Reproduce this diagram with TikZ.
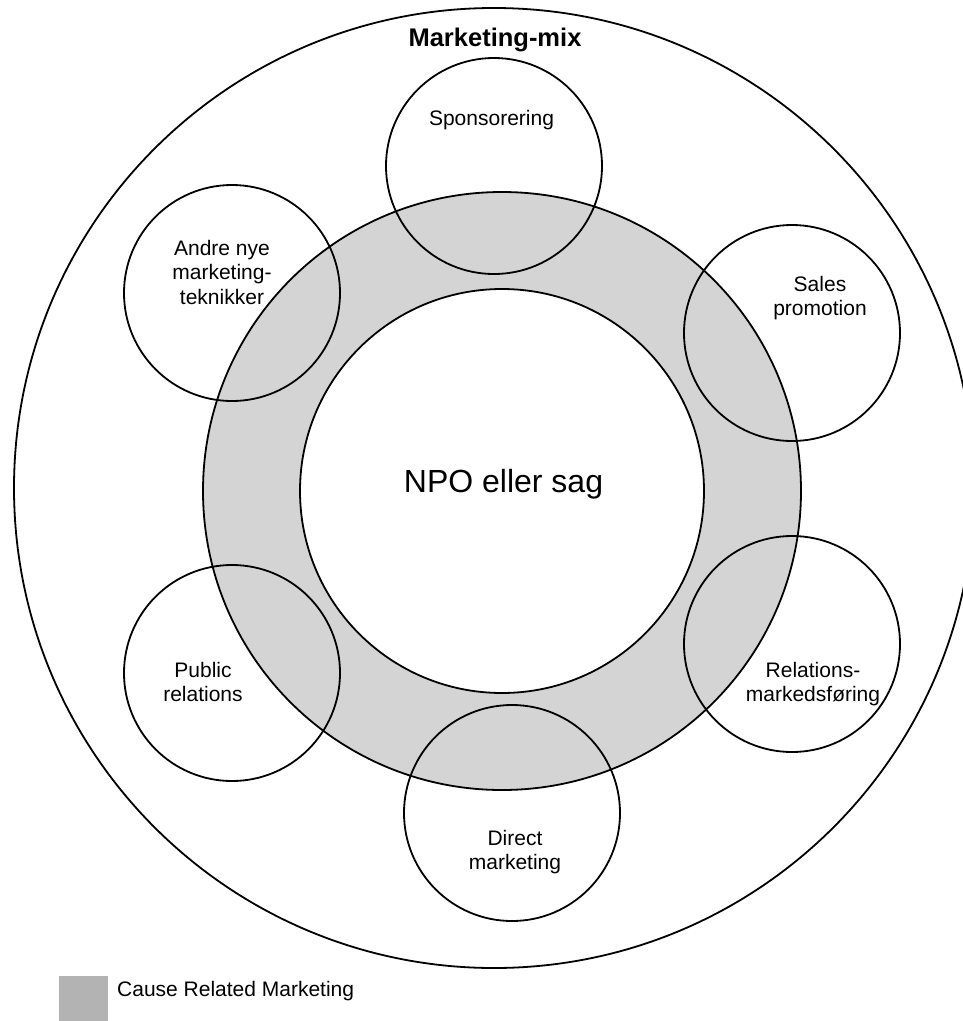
\documentclass[tikz,border=0pt]{standalone}
\usepackage{fontspec}
\setmainfont{Liberation Sans}
\definecolor{ringgray}{RGB}{212,212,212}
\definecolor{legendgray}{RGB}{179,179,179}
\begin{document}
\begin{tikzpicture}[x=1pt,y=-1pt,
  outline/.style={draw=black, line width=1.8pt},
  bub/.style={circle, outline, minimum size=216pt, inner sep=0pt},
  lbl/.style={align=center, anchor=base, inner sep=0pt, font=\fontsize{21}{24.5}\selectfont},
]
\useasboundingbox (0,0) rectangle (963,1021);
\clip (0,0) rectangle (963,1021);
% outer marketing-mix circle
\node[circle, outline, minimum size=960pt, inner sep=0pt] (mix) at (494,488) {};
% gray ring (Cause Related Marketing)
\node[circle, outline, fill=ringgray, minimum size=598pt, inner sep=0pt] (crm) at (502,491) {};
\node[circle, outline, fill=white, minimum size=404pt, inner sep=0pt] (npo) at (502,491) {};
% marketing tools
\node[bub] (spons) at (494,166) {};
\node[bub] (sales) at (792,333) {};
\node[bub] (rel) at (792,644) {};
\node[bub] (direct) at (512,813) {};
\node[bub] (pr) at (232,673) {};
\node[bub] (andre) at (232,293) {};
% labels (base anchor = baseline of the last line)
\node[lbl, font=\fontsize{25.5}{30}\selectfont\bfseries] (tmix) at (495,46.5) {Marketing-mix};
\node[lbl, font=\fontsize{32}{38}\selectfont] (tnpo) at (503.5,492) {NPO eller sag};
\node[lbl] (tspons) at (491.5,125) {Sponsorering};
\node[lbl] (tsales) at (820,315.5) {Sales\\promotion};
\node[lbl] (trel) at (813,701.5) {Relations-\\markedsføring};
\node[lbl] (tdirect) at (515,869.5) {Direct\\marketing};
\node[lbl] (tpr) at (203,701.5) {Public\\relations};
\node[lbl] (tandre) at (222,304) {Andre nye\\marketing-\\teknikker};
% legend
\fill[legendgray] (59,976) rectangle (108,1021);
\node[lbl, anchor=base west] (tlegend) at (117,996) {Cause Related Marketing};
\end{tikzpicture}
\end{document}
